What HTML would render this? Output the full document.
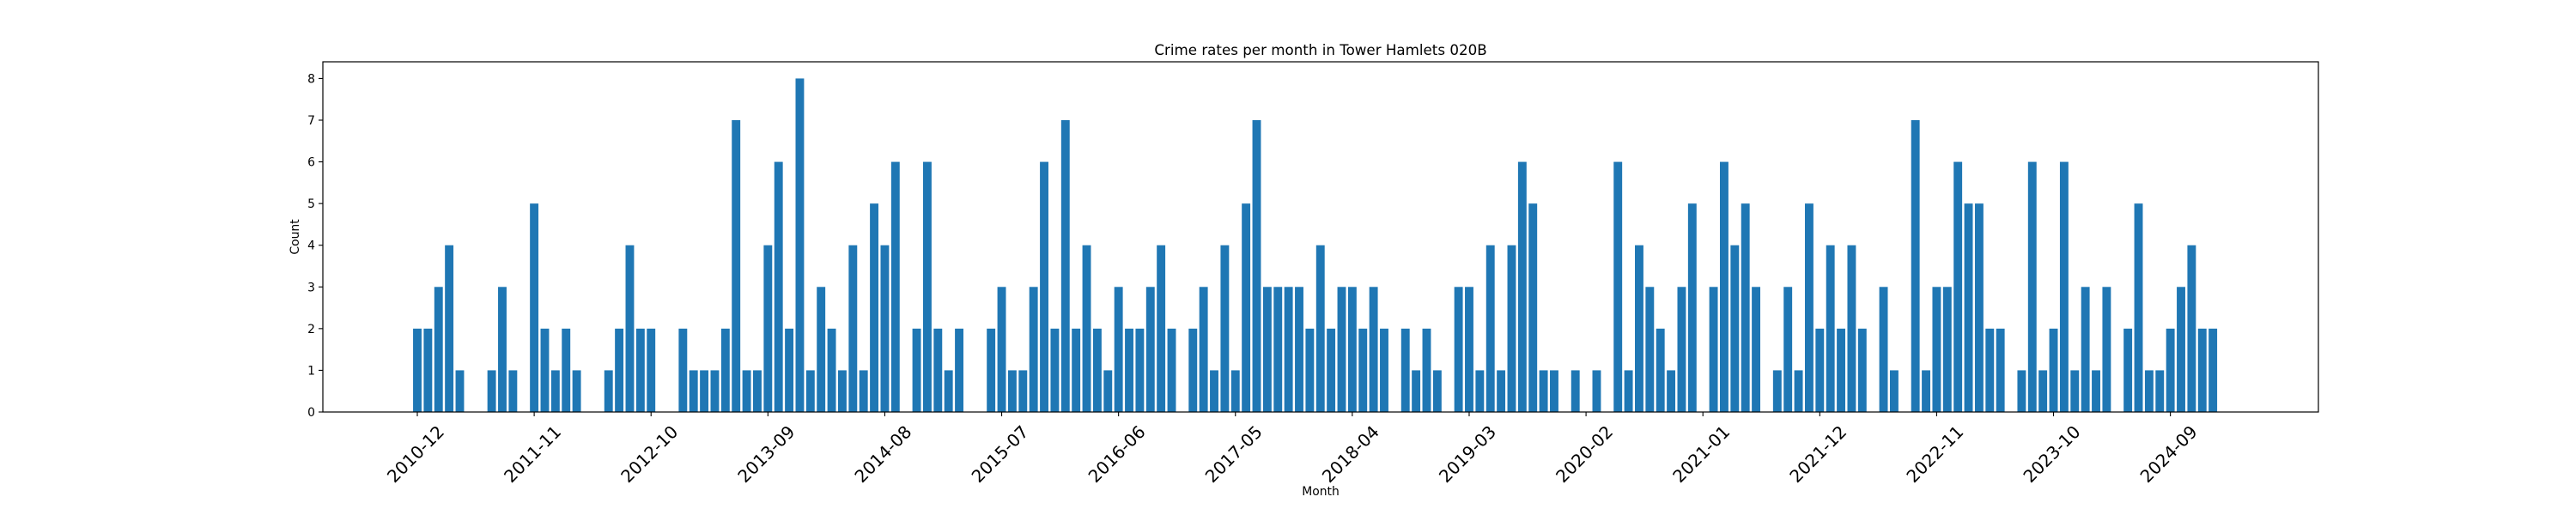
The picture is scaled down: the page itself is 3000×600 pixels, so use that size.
<!DOCTYPE html>
<html>
<head>
<meta charset="utf-8">
<style>
  html, body { margin: 0; padding: 0; background: #fff; }
  svg { display: block; font-family: "DejaVu Sans", "Liberation Sans", sans-serif; }
</style>
</head>
<body>
<svg id="chart" width="3000" height="600" viewBox="0 0 3000 600" xmlns="http://www.w3.org/2000/svg">
  <rect x="0" y="0" width="3000" height="600" fill="#ffffff"/>
  <text x="1538" y="64" font-size="16.7" text-anchor="middle" fill="#000">Crime rates per month in Tower Hamlets 020B</text>
  <g id="bars"></g>
  <g id="yaxis"></g>
  <g id="xaxis"></g>
  <rect x="376" y="72" width="2324" height="408" fill="none" stroke="#000" stroke-width="1.2"/>
  <text x="0" y="0" font-size="13.9" text-anchor="middle" transform="translate(348,276) rotate(-90)" fill="#000">Count</text>
  <text x="1538" y="577" font-size="13.9" text-anchor="middle" fill="#000">Month</text>
</svg>
<script>
// Data: monthly counts starting 2010-12 (0 = no bar)
const startYear = 2010;
const startMonth = 12;
const counts = [
  2,2,3,4,1,0,0,1,3,1,0,5,2,1,2,1,0,0,1,2,4,2,2,0,0,2,1,1,1,2,7,1,1,4,6,
  2,8,1,3,2,1,4,1,5,4,6,0,2,6,2,1,2,0,0,2,3,1,1,3,6,2,7,2,4,2,1,3,2,2,3,
  4,2,0,2,3,1,4,1,5,7,3,3,3,3,2,4,2,3,3,2,3,2,0,2,1,2,1,0,3,3,1,4,1,4,6,
  5,1,1,0,1,0,1,0,6,1,4,3,2,1,3,5,0,3,6,4,5,3,0,1,3,1,5,2,4,2,4,2,0,3,1,
  0,7,1,3,3,6,5,5,2,2,0,1,6,1,2,6,1,3,1,3,0,2,5,1,1,2,3,4,2,2
];
const yTicks = [0,1,2,3,4,5,6,7,8];
const tickEvery = 11;

// Axis geometry
const plotLeft = 376, plotRight = 2700, plotTop = 72, plotBottom = 480;
const xMin = -8.89, xMax = 178.93;
const yMin = 0, yMax = 8.4;
function xScale(i) { return plotLeft + (i - xMin) / (xMax - xMin) * (plotRight - plotLeft); }
function yScale(v) { return plotBottom - (v - yMin) / (yMax - yMin) * (plotBottom - plotTop); }
function monthLabel(i) {
  const m0 = (startMonth - 1) + i;
  const y = startYear + Math.floor(m0 / 12);
  const m = (m0 % 12) + 1;
  return y + "-" + (m < 10 ? "0" + m : m);
}

const NS = "http://www.w3.org/2000/svg";
const barsG = document.getElementById("bars");
const barW = 0.8 * (xScale(1) - xScale(0));
counts.forEach(function (v, i) {
  if (v <= 0) return;
  const r = document.createElementNS(NS, "rect");
  
  
  r.setAttribute("x", xScale(i) - barW / 2);
  r.setAttribute("width", barW);
  r.setAttribute("y", yScale(v));
  r.setAttribute("height", yScale(0) - yScale(v));
  r.setAttribute("fill", "#1f77b4");
  barsG.appendChild(r);
});

const yG = document.getElementById("yaxis");
yTicks.forEach(function (t) {
  const y = yScale(t);
  const ln = document.createElementNS(NS, "line");
  
  
  ln.setAttribute("x1", plotLeft - 5); ln.setAttribute("x2", plotLeft);
  ln.setAttribute("y1", y); ln.setAttribute("y2", y);
  ln.setAttribute("stroke", "#000"); ln.setAttribute("stroke-width", "1.1");
  yG.appendChild(ln);
  const tx = document.createElementNS(NS, "text");
  
  
  tx.setAttribute("x", plotLeft - 9); tx.setAttribute("y", y + 5);
  tx.setAttribute("font-size", "13.9"); tx.setAttribute("text-anchor", "end");
  tx.textContent = t;
  yG.appendChild(tx);
});

const xG = document.getElementById("xaxis");
for (let i = 0; i < counts.length; i += tickEvery) {
  const x = xScale(i);
  const ln = document.createElementNS(NS, "line");
  
  
  ln.setAttribute("x1", x); ln.setAttribute("x2", x);
  ln.setAttribute("y1", plotBottom); ln.setAttribute("y2", plotBottom + 5);
  ln.setAttribute("stroke", "#000"); ln.setAttribute("stroke-width", "1.1");
  xG.appendChild(ln);
  const tx = document.createElementNS(NS, "text");
  
  
  tx.setAttribute("x", 0); tx.setAttribute("y", 0);
  tx.setAttribute("font-size", "20"); tx.setAttribute("text-anchor", "middle");
  tx.setAttribute("dominant-baseline", "central");
  tx.setAttribute("transform", "translate(" + (x - 2) + "," + 529 + ") rotate(-45)");
  tx.textContent = monthLabel(i);
  xG.appendChild(tx);
}
</script>
</body>
</html>
